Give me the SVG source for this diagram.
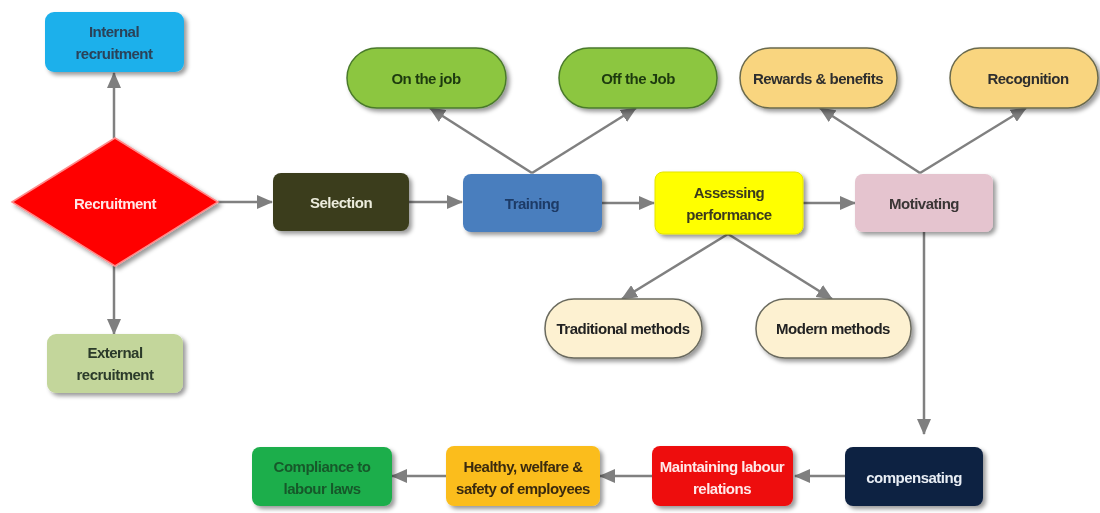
<svg xmlns="http://www.w3.org/2000/svg" width="1100" height="513" viewBox="0 0 1100 513">
<defs>
<filter id="sh" x="-10%" y="-10%" width="125%" height="135%">
<feDropShadow dx="3" dy="3" stdDeviation="2.2" flood-color="#000" flood-opacity="0.4"/>
</filter>
<marker id="ah" markerWidth="16" markerHeight="14" refX="15" refY="7" orient="auto" markerUnits="userSpaceOnUse">
<path d="M0,0 L16,7 L0,14 Z" fill="#7f7f7f"/>
</marker>
<style>
text{font-family:"Liberation Sans",Arial,sans-serif;font-weight:bold;font-size:15px;text-anchor:middle;dominant-baseline:central;letter-spacing:-0.5px}
.c line{stroke:#808080;stroke-width:2.5;marker-end:url(#ah)}
.n{filter:url(#sh)}
</style>
</defs>
<rect width="1100" height="513" fill="#ffffff"/>
<g class="c" id="connectors">
<line x1="114" y1="138" x2="114" y2="73"/>
<line x1="114" y1="266" x2="114" y2="334"/>
<line x1="218" y1="202" x2="272" y2="202"/>
<line x1="409" y1="202" x2="462" y2="202"/>
<line x1="602" y1="203" x2="654" y2="203"/>
<line x1="803" y1="203" x2="855" y2="203"/>
<line x1="532" y1="173" x2="430" y2="108"/>
<line x1="532" y1="173" x2="636" y2="108"/>
<line x1="920" y1="173" x2="820" y2="108"/>
<line x1="920" y1="173" x2="1026" y2="108"/>
<line x1="728" y1="234" x2="622" y2="299"/>
<line x1="728" y1="234" x2="832" y2="299"/>
<line x1="924" y1="232" x2="924" y2="434"/>
<line x1="845" y1="476" x2="795" y2="476"/>
<line x1="652" y1="476" x2="600" y2="476"/>
<line x1="446" y1="476" x2="392" y2="476"/>
</g>
<g id="internal" class="n"><rect x="45" y="12" width="139" height="60" rx="9" fill="#1db0eb"/><text x="114" y="31" fill="#2b4258">Internal</text><text x="114" y="53" fill="#2b4258">recruitment</text></g>
<g id="recruitment" class="n"><polygon points="12,202 115,138 218,202 115,266" fill="#ff0000" stroke="#ff8a8a" stroke-width="1.5"/><text x="115" y="203" fill="#ffe6e6">Recruitment</text></g>
<g id="external" class="n"><rect x="47" y="334" width="136" height="59" rx="9" fill="#c3d69b"/><text x="115" y="352" fill="#2c3a2a">External</text><text x="115" y="374" fill="#2c3a2a">recruitment</text></g>
<g id="selection" class="n"><rect x="273" y="173" width="136" height="58" rx="8" fill="#3b3e1c"/><text x="341" y="202" fill="#ececdc">Selection</text></g>
<g id="training" class="n"><rect x="463" y="174" width="139" height="58" rx="8" fill="#4a7ebe"/><text x="532" y="203" fill="#1d3a66">Training</text></g>
<g id="assessing" class="n"><rect x="655" y="172" width="148" height="62" rx="8" fill="#ffff00" stroke="#e4e400"/><text x="729" y="192" fill="#3b3a1e">Assessing</text><text x="729" y="214" fill="#3b3a1e">performance</text></g>
<g id="motivating" class="n"><rect x="855" y="174" width="138" height="58" rx="8" fill="#e5c4cf"/><text x="924" y="203" fill="#3a3636">Motivating</text></g>
<g id="onjob" class="n"><rect x="347" y="48" width="159" height="60" rx="30" fill="#8cc63f" stroke="#4a7a2c" stroke-width="1.5"/><text x="426" y="78" fill="#1e3a10">On the job</text></g>
<g id="offjob" class="n"><rect x="559" y="48" width="158" height="60" rx="30" fill="#8cc63f" stroke="#4a7a2c" stroke-width="1.5"/><text x="638" y="78" fill="#1e3a10">Off the Job</text></g>
<g id="rewards" class="n"><rect x="740" y="48" width="157" height="60" rx="30" fill="#f9d57f" stroke="#6a6a4e" stroke-width="1.5"/><text x="818" y="78" fill="#2e2e2e">Rewards &amp; benefits</text></g>
<g id="recognition" class="n"><rect x="950" y="48" width="148" height="60" rx="30" fill="#f9d57f" stroke="#6a6a4e" stroke-width="1.5"/><text x="1028" y="78" fill="#2e2e2e">Recognition</text></g>
<g id="traditional" class="n"><rect x="545" y="299" width="157" height="59" rx="29" fill="#fdf1d1" stroke="#6a6a5e" stroke-width="1.5"/><text x="623" y="328" fill="#222">Traditional methods</text></g>
<g id="modern" class="n"><rect x="756" y="299" width="155" height="59" rx="29" fill="#fdf1d1" stroke="#6a6a5e" stroke-width="1.5"/><text x="833" y="328" fill="#222">Modern methods</text></g>
<g id="compensating" class="n"><rect x="845" y="447" width="138" height="59" rx="8" fill="#0e2242"/><text x="914" y="477" fill="#e8eef5">compensating</text></g>
<g id="maintaining" class="n"><rect x="652" y="446" width="141" height="60" rx="8" fill="#ee1111"/><text x="722" y="466" fill="#ffe8e8">Maintaining labour</text><text x="722" y="488" fill="#ffe8e8">relations</text></g>
<g id="healthy" class="n"><rect x="446" y="446" width="154" height="60" rx="8" fill="#fbbd1c"/><text x="523" y="466" fill="#3a2a10">Healthy, welfare &amp;</text><text x="523" y="488" fill="#3a2a10">safety of employees</text></g>
<g id="compliance" class="n"><rect x="252" y="447" width="140" height="59" rx="8" fill="#1fae4c"/><text x="322" y="466" fill="#16592a">Compliance to</text><text x="322" y="488" fill="#16592a">labour laws</text></g>
</svg>
